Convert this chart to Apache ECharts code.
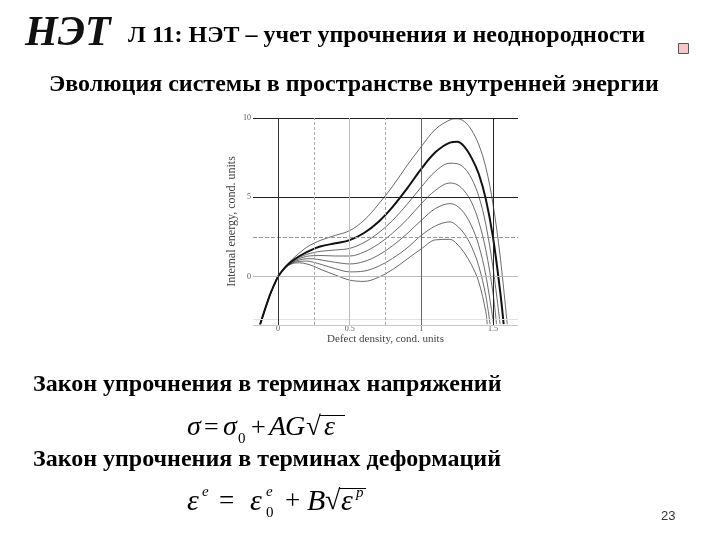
<!DOCTYPE html>
<html>
<head>
<meta charset="utf-8">
<script src="https://cdn.jsdelivr.net/npm/echarts@6/dist/echarts.min.js"></script>
<style>
html,body{margin:0;padding:0;background:#fff;}
#chart{width:720px;height:540px;}
</style>
</head>
<body>
<div id="chart"></div>
<script>
// ---- data ----
const leftX = [-0.125, -0.1, -0.075, -0.05, -0.025, 0];
const leftY = [-3, -2.3, -1.62, -1.0, -0.47, 0];
const midX = [0.05, 0.1, 0.15, 0.2, 0.25, 0.3, 0.4, 0.5, 0.6, 0.7, 0.8, 0.9, 1.0, 1.1, 1.2];

const c1Mid = [0.62, 1.1, 1.5, 1.85, 2.1, 2.3, 2.6, 2.9, 3.55, 4.55, 5.7, 7.0, 8.2, 9.3, 9.88];
const c1TailX = [1.25, 1.3, 1.35, 1.4, 1.45, 1.5, 1.55, 1.6];
const c1TailY = [9.95, 9.78, 9.25, 8.35, 6.9, 4.6, 1.3, -3];

const c2Mid = [0.6, 1.0, 1.3, 1.55, 1.75, 1.92, 2.1, 2.3, 2.75, 3.45, 4.4, 5.55, 6.8, 7.85, 8.45];
const c2TailX = [1.25, 1.3, 1.35, 1.4, 1.45, 1.5, 1.55, 1.575];
const c2TailY = [8.5, 8.2, 7.5, 6.5, 4.9, 2.5, -0.9, -3];

const c3Mid = [0.58, 0.97, 1.22, 1.4, 1.52, 1.6, 1.68, 1.78, 2.15, 2.75, 3.55, 4.55, 5.65, 6.65, 7.15];
const c3TailX = [1.25, 1.3, 1.35, 1.4, 1.45, 1.5, 1.55];
const c3TailY = [7.12, 6.85, 6.2, 5.1, 3.3, 0.6, -3];

const c4Mid = [0.57, 0.94, 1.14, 1.28, 1.32, 1.33, 1.3, 1.3, 1.55, 2.05, 2.75, 3.6, 4.6, 5.45, 5.9];
const c4TailX = [1.25, 1.3, 1.35, 1.4, 1.45, 1.5, 1.525];
const c4TailY = [5.8, 5.4, 4.7, 3.5, 1.7, -1.0, -3];

const c5Mid = [0.56, 0.9, 1.05, 1.13, 1.12, 1.05, 0.9, 0.8, 0.95, 1.35, 1.95, 2.7, 3.55, 4.3, 4.6];
const c5TailX = [1.25, 1.3, 1.35, 1.4, 1.45, 1.505];
const c5TailY = [4.45, 4.0, 3.2, 2.0, 0.1, -3];

const c6Mid = [0.55, 0.86, 0.96, 0.98, 0.9, 0.77, 0.5, 0.3, 0.35, 0.65, 1.15, 1.8, 2.6, 3.2, 3.45];
const c6TailX = [1.25, 1.3, 1.35, 1.4, 1.45, 1.48];
const c6TailY = [3.2, 2.7, 1.9, 0.7, -1.2, -3];

const c7Mid = [0.54, 0.82, 0.87, 0.8, 0.65, 0.45, 0.1, -0.22, -0.3, -0.05, 0.45, 1.1, 1.75, 2.32, 2.35];
const c7TailX = [1.25, 1.3, 1.35, 1.4, 1.45, 1.46];
const c7TailY = [2.05, 1.5, 0.75, -0.3, -2.2, -3];

const xTickLabels = [0, 0.5, 1, 1.5];
const yTickLabels = [0, 5, 10];
const hGridValues = [10, 5, 2.5, 0, -2.7, -3.05];
const vGridValues = [0, 0.25, 0.5, 0.75, 1, 1.5];

// ---- build ----
function curve(mid, tx, ty) {
  const pts = [];
  leftX.forEach((x, i) => pts.push([x, leftY[i]]));
  midX.forEach((x, i) => pts.push([x, mid[i]]));
  tx.forEach((x, i) => pts.push([x, ty[i]]));
  return pts;
}
const curves = [
  curve(c1Mid, c1TailX, c1TailY),
  curve(c2Mid, c2TailX, c2TailY),
  curve(c3Mid, c3TailX, c3TailY),
  curve(c4Mid, c4TailX, c4TailY),
  curve(c5Mid, c5TailX, c5TailY),
  curve(c6Mid, c6TailX, c6TailY),
  curve(c7Mid, c7TailX, c7TailY)
];

const hStyles = [
  {color: '#222', width: 1, type: 'solid'},
  {color: '#222', width: 1, type: 'solid'},
  {color: '#999', width: 1, type: [4, 2]},
  {color: '#bbb', width: 1, type: 'solid'},
  {color: '#e2e2e2', width: 1, type: 'solid'},
  {color: '#c8c8c8', width: 1, type: 'solid'}
];
const vStyles = [
  {color: '#333', width: 1, type: 'solid'},
  {color: '#aaa', width: 1, type: [3, 2]},
  {color: '#bbb', width: 1, type: 'solid'},
  {color: '#aaa', width: 1, type: [3, 2]},
  {color: '#666', width: 1, type: 'solid'},
  {color: '#222', width: 1, type: 'solid'}
];
const markData = [];
hGridValues.forEach((v, i) => markData.push({yAxis: v, lineStyle: hStyles[i]}));
vGridValues.forEach((v, i) => markData.push({xAxis: v, lineStyle: vStyles[i]}));

const serif = '"Liberation Serif", "DejaVu Serif", serif';

const series = [{
  type: 'line',
  data: [[0, 0]],
  showSymbol: false,
  silent: true,
  lineStyle: {opacity: 0},
  z: 1,
  markLine: {
    silent: true,
    symbol: ['none', 'none'],
    label: {show: false},
    animation: false,
    data: markData
  }
}];
curves.forEach((pts, i) => {
  series.push({
    type: 'line',
    data: pts,
    showSymbol: false,
    smooth: 0.35,
    silent: true,
    z: i === 1 ? 4 : 3,
    lineStyle: i === 1 ? {color: '#111', width: 2} : {color: '#444', width: 0.8}
  });
});

function txt(text, x, y, size, opts) {
  opts = opts || {};
  return {
    type: 'text',
    style: Object.assign({
      text: text, x: x, y: y,
      fontSize: size,
      fontFamily: serif,
      fontWeight: opts.weight || 'normal',
      fontStyle: opts.style || 'normal',
      fill: opts.fill || '#000',
      align: 'left',
      verticalAlign: 'middle'
    }, opts.extra || {})
  };
}
function hline(x1, x2, y) {
  return {type: 'line', shape: {x1: x1, y1: y, x2: x2, y2: y}, style: {stroke: '#000', lineWidth: 1}};
}

const it = {style: 'italic'};
const graphics = [
  txt('НЭТ', 25, 34, 42, {weight: 'bold', style: 'italic', fill: '#111'}),
  txt('Л 11: НЭТ – учет упрочнения и неоднородности', 128, 35.5, 24, {weight: 'bold'}),
  {type: 'rect', shape: {x: 678.5, y: 43.5, width: 10, height: 10}, style: {fill: '#f7c6cc', stroke: '#555', lineWidth: 1}},
  txt('Эволюция системы в пространстве внутренней энергии', 49, 85, 24, {weight: 'bold'}),
  txt('Закон упрочнения в терминах напряжений', 33, 385, 24, {weight: 'bold'}),
  txt('Закон упрочнения в терминах деформаций', 33, 459.5, 24, {weight: 'bold'}),
  // formula 1: σ = σ0 + AG√ε
  txt('σ', 187, 428, 28, it),
  txt('=', 204, 428, 26),
  txt('σ', 223, 428, 28, it),
  txt('0', 238, 439, 15),
  txt('+', 251, 428, 26),
  txt('A', 269, 428, 28, it),
  txt('G', 285, 428, 28, it),
  txt('√', 306, 428, 27),
  hline(320, 345, 415.5),
  txt('ε', 324, 428, 28, it),
  // formula 2: ε^e = ε0^e + B√ε^p
  txt('ε', 187, 502, 30, it),
  txt('e', 202, 492, 15, it),
  txt('=', 219, 502, 27),
  txt('ε', 250, 502, 30, it),
  txt('e', 266, 492, 15, it),
  txt('0', 266, 513, 15),
  txt('+', 285, 502, 27),
  txt('B', 307, 502, 30, it),
  txt('√', 325, 502, 28),
  hline(339, 366, 488.5),
  txt('ε', 341, 502, 30, it),
  txt('p', 356, 493, 15, it),
  txt('23', 661, 516, 13, {extra: {fontFamily: '"Liberation Sans", Arial, sans-serif'}, fill: '#333'})
];

const chart = echarts.init(document.getElementById('chart'), null, {renderer: 'canvas'});
chart.setOption({
  animation: false,
  backgroundColor: '#fff',
  grid: {left: 253, top: 118, width: 265, height: 207},
  xAxis: {
    type: 'value', min: -0.175, max: 1.675,
    axisLine: {show: false}, axisTick: {show: false}, splitLine: {show: false},
    axisLabel: {customValues: xTickLabels, margin: 0, fontSize: 8, fontFamily: serif, color: '#555'},
    name: 'Defect density, cond. units', nameLocation: 'middle', nameGap: 8,
    nameTextStyle: {fontSize: 11, fontFamily: serif, color: '#444'}
  },
  yAxis: {
    type: 'value', min: -3.05, max: 10,
    axisLine: {show: false}, axisTick: {show: false}, splitLine: {show: false},
    axisLabel: {customValues: yTickLabels, margin: 2, fontSize: 8, fontFamily: serif, color: '#555'},
    name: 'Internal energy, cond. units', nameLocation: 'middle', nameGap: 15,
    nameTextStyle: {fontSize: 12, fontFamily: serif, color: '#444'}
  },
  series: series,
  graphic: graphics
});
</script>
</body>
</html>
